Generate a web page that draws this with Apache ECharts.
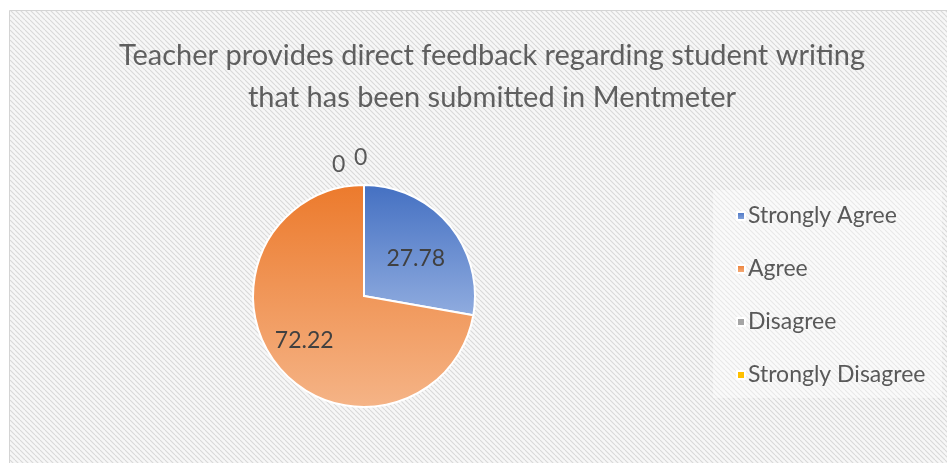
<!DOCTYPE html>
<html lang="en">
<head>
    <meta charset="UTF-8">
    <title>Teacher provides direct feedback</title>
    <script src="https://cdn.jsdelivr.net/npm/echarts@6/dist/echarts.min.js"></script>
    <style>
        html, body { margin: 0; padding: 0; background: #fff; }
        #chart { width: 947px; height: 463px; }
    </style>
</head>
<body>
    <div id="chart"></div>

    <script>
        // Dados do gráfico
        var categorias = ['Strongly Agree', 'Agree', 'Disagree', 'Strongly Disagree'];
        var valores = [27.78, 72.22, 0, 0];
        var titulo = 'Teacher provides direct feedback regarding student writing\nthat has been submitted in Mentmeter';

        // padrão hachurado do fundo
        var tile = document.createElement('canvas');
        tile.width = 5; tile.height = 5;
        var g = tile.getContext('2d');
        g.fillStyle = '#f7f7f7';
        g.fillRect(0, 0, 5, 5);
        g.strokeStyle = '#d8d8d8';
        g.lineWidth = 1.1;
        for (var k = -1; k <= 1; k++) {
            g.beginPath();
            g.moveTo(k * 5, 0);
            g.lineTo(k * 5 + 5, 5);
            g.stroke();
        }

        function grad(c1, c2) {
            return new echarts.graphic.LinearGradient(0, 0, 0, 1, [
                { offset: 0, color: c1 }, { offset: 1, color: c2 }
            ]);
        }
        var cores = [
            grad('#4470c2', '#90acdf'),
            grad('#ec7a2c', '#f5b487'),
            '#a5a5a5',
            '#ffc000'
        ];

        var dados = categorias.map(function (c, i) {
            var item = { name: c, value: valores[i], itemStyle: { color: cores[i] } };
            if (valores[i] === 0) {
                item.label = { position: 'outside', color: '#595959' };
            }
            return item;
        });

        var chart = echarts.init(document.getElementById('chart'));
        chart.setOption({
            backgroundColor: '#fff',
            animation: false,
            graphic: [
                {
                    type: 'rect', z: -10,
                    shape: { x: 9.5, y: 10.5, width: 960, height: 480 },
                    style: { fill: { image: tile, repeat: 'repeat' }, stroke: '#d4d4d4', lineWidth: 1 }
                },
                {
                    type: 'rect', z: -9,
                    shape: { x: 713, y: 190, width: 229, height: 208 },
                    style: { fill: 'rgba(255,255,255,0.4)' }
                }
            ],
            title: {
                text: titulo,
                left: 487, top: 30,
                textAlign: 'center',
                textStyle: {
                    fontFamily: 'Lato', fontSize: 29, fontWeight: 'normal',
                    color: '#5f5f5f', lineHeight: 42
                }
            },
            legend: {
                orient: 'vertical',
                left: 731, top: 199,
                icon: 'rect',
                itemWidth: 8, itemHeight: 8,
                itemGap: 29,
                data: categorias,
                textStyle: { fontFamily: 'Lato', fontSize: 23, color: '#595959', lineHeight: 24, padding: [0, 0, 0, -2] }
            },
            series: [{
                type: 'pie',
                center: [364, 296],
                radius: 111,
                startAngle: 90,
                clockwise: true,
                avoidLabelOverlap: false,
                stillShowZeroSum: true,
                minShowLabelAngle: 0,
                data: dados,
                itemStyle: { borderColor: '#fff', borderWidth: 2 },
                label: {
                    show: true,
                    position: 'inside',
                    formatter: '{c}',
                    fontFamily: 'Lato', fontSize: 23,
                    color: '#404040'
                },
                labelLine: { show: false },
                labelLayout: function (p) {
                    if (p.dataIndex === 2) return { dx: -67, dy: -5 };
                    if (p.dataIndex === 3) return { dx: -45, dy: -12 };
                    if (p.dataIndex === 0) return { dx: 7 };
                    if (p.dataIndex === 1) return { dx: -15, dy: 7 };
                    return {};
                }
            }]
        });
    </script>
</body>
</html>
